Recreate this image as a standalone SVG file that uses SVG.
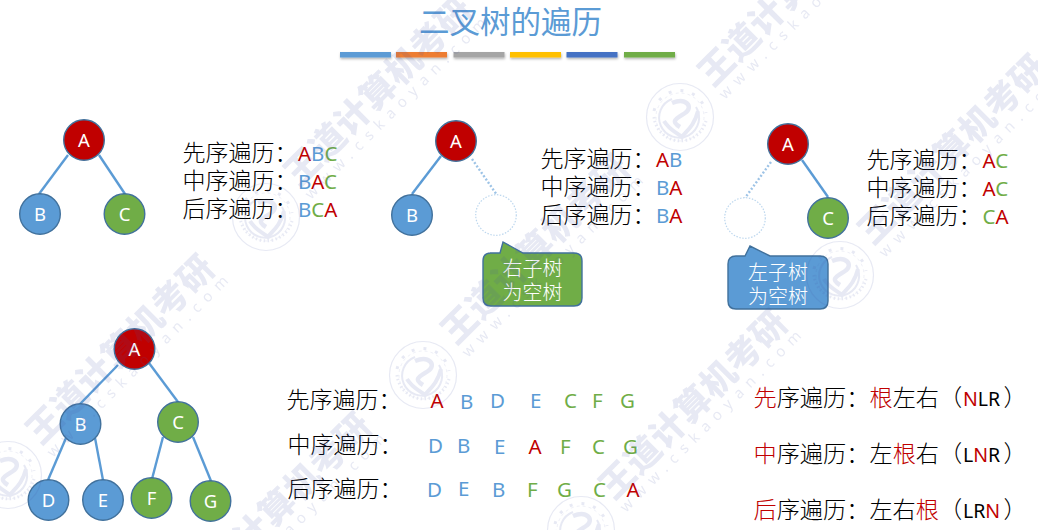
<svg xmlns="http://www.w3.org/2000/svg" xmlns:xlink="http://www.w3.org/1999/xlink" width="1038" height="530" viewBox="0 0 1038 530">
<style>
text{font-family:"Noto Sans CJK SC","Noto Sans",sans-serif}
.lat{font-family:"Noto Sans","Open Sans",sans-serif}
.cjk{font-size:23px;font-weight:300;fill:#000}
.cjk2{font-size:23.2px;font-weight:300;fill:#000}
.seq{font-family:"Noto Sans","Open Sans",sans-serif;font-size:20.5px}
.seq2{font-family:"Noto Sans","Open Sans",sans-serif;font-size:19.5px}
.r{fill:#c00000}.b{fill:#5b9bd5}.g{fill:#70ad47}.k{fill:#000}
.nr{fill:#c00000;stroke:#41719c;stroke-width:1.4}
.nb{fill:#5b9bd5;stroke:#41719c;stroke-width:1.4}
.ng{fill:#70ad47;stroke:#41719c;stroke-width:1.4}
.ne{fill:#fff;stroke:#bdd7ee;stroke-width:1.2;stroke-dasharray:1.5 1.5}
.nt{font-family:"Noto Sans","Open Sans",sans-serif;font-size:18.5px;fill:#fff;text-anchor:middle}
.e{stroke:#5b9bd5;stroke-width:2.4;fill:none}
.d{stroke:#9dc3e6;stroke-width:2.4;stroke-dasharray:2 2;fill:none}
.co{font-size:20px;font-weight:300;fill:#fff;text-anchor:middle}
.bar{filter:url(#sh)}
</style>
<defs>
<filter id="sh" x="-10%" y="-60%" width="120%" height="260%"><feDropShadow dx="0.5" dy="1.5" stdDeviation="1" flood-color="#000" flood-opacity=".3"/></filter>
<g id="wm" fill="#4a5aa8" opacity=".13">
<text transform="translate(33,-29) rotate(-45)" style="font-size:35px;font-weight:900;letter-spacing:.6px">王道计算机考研</text>
<text class="lat" transform="translate(45,-17) rotate(-45)" style="font-size:15px;letter-spacing:7.4px">www.cskaoyan.com</text>
<g fill="none" stroke="#4a5aa8">
<circle r="33.5" stroke-width="1.2"/>
<circle r="24" stroke-width=".7" stroke-dasharray="3 3"/>
<path d="M-8,-18A20,20 0 1 0 16,-10" stroke-width="2"/>
<path d="M-8,-14C6,-20 14,-10 5,-4S-10,4 0,10" stroke-width="4.5"/>
<path d="M-16,4C-10,14 -2,16 2,20C6,14 14,10 18,-6" stroke-width="4"/>
<path d="M-26,0A26.500,26.500 0 0 0 26,4" stroke-width="3" stroke-dasharray="1.500 2.500"/>
<path d="M-26,-6A26.500,26.500 0 0 1 26,-4" stroke-width="3" stroke-dasharray="3 9"/>
</g>
</g>
</defs>
<rect width="1038" height="530" fill="#fff"/>

<g id="title">
<text x="510.500" y="33" text-anchor="middle" style="font-size:30.500px;font-weight:400;fill:#5b9bd5">二叉树的遍历</text>
<rect class="bar" x="340" y="52" width="51" height="5.500" fill="#5b9bd5"/>
<rect class="bar" x="396" y="52" width="51" height="5.500" fill="#ed7d31"/>
<rect class="bar" x="453.500" y="52" width="51" height="5.500" fill="#a5a5a5"/>
<rect class="bar" x="510" y="52" width="51" height="5.500" fill="#ffc000"/>
<rect class="bar" x="566.500" y="52" width="51" height="5.500" fill="#4472c4"/>
<rect class="bar" x="624" y="52" width="51" height="5.500" fill="#70ad47"/>
</g>

<g id="connectors">
<line class="e" x1="68" y1="155" x2="39" y2="194"/>
<line class="e" x1="99" y1="155" x2="125" y2="194"/>
<line class="e" x1="441" y1="156" x2="412" y2="194"/>
<line class="d" x1="472" y1="159" x2="497" y2="195"/>
<line class="d" x1="771" y1="162" x2="745" y2="198"/>
<line class="e" x1="802" y1="160" x2="828" y2="197"/>
<line class="e" x1="118" y1="365" x2="80" y2="404"/>
<line class="e" x1="149" y1="363" x2="178" y2="402"/>
<line class="e" x1="66" y1="438" x2="48" y2="480"/>
<line class="e" x1="95" y1="438" x2="103" y2="480"/>
<line class="e" x1="163" y1="437" x2="152" y2="479"/>
<line class="e" x1="193" y1="437" x2="211" y2="481"/>
</g>

<g id="t1-a"><circle class="nr" cx="84" cy="140" r="20.300"/><text class="nt" x="84" y="146.500">A</text></g>
<g id="t1-b"><circle class="nb" cx="40" cy="214" r="20.300"/><text class="nt" x="40" y="220.500">B</text></g>
<g id="t1-c"><circle class="ng" cx="124.500" cy="214" r="20.300"/><text class="nt" x="124.500" y="220.500">C</text></g>

<g id="t2-a"><circle class="nr" cx="456" cy="141" r="20.300"/><text class="nt" x="456" y="147.500">A</text></g>
<g id="t2-b"><circle class="nb" cx="412" cy="215" r="20.300"/><text class="nt" x="412" y="221.500">B</text></g>
<g id="t2-empty"><circle class="ne" cx="496" cy="215" r="20.300"/></g>

<g id="t3-a"><circle class="nr" cx="788" cy="144" r="20.300"/><text class="nt" x="788" y="150.500">A</text></g>
<g id="t3-empty"><circle class="ne" cx="745" cy="218" r="20.300"/></g>
<g id="t3-c"><circle class="ng" cx="828" cy="218" r="20.300"/><text class="nt" x="828" y="224.500">C</text></g>

<g id="t4-a"><circle class="nr" cx="134.500" cy="349" r="20.300"/><text class="nt" x="134.500" y="355.500">A</text></g>
<g id="t4-b"><circle class="nb" cx="80.500" cy="424" r="20.300"/><text class="nt" x="80.500" y="430.500">B</text></g>
<g id="t4-c"><circle class="ng" cx="178" cy="422" r="20.300"/><text class="nt" x="178" y="428.500">C</text></g>
<g id="t4-d"><circle class="nb" cx="48.500" cy="500" r="20.300"/><text class="nt" x="48.500" y="506.500">D</text></g>
<g id="t4-e"><circle class="nb" cx="103" cy="500" r="20.300"/><text class="nt" x="103" y="506.500">E</text></g>
<g id="t4-f"><circle class="ng" cx="151.500" cy="498" r="20.300"/><text class="nt" x="151.500" y="504.500">F</text></g>
<g id="t4-g"><circle class="ng" cx="210.500" cy="501" r="20.300"/><text class="nt" x="210.500" y="507.500">G</text></g>

<g id="callout-right">
<path d="M490,253L500,253L503,242L523,253L574,253Q582,253 582,261L582,298Q582,306 574,306L491,306Q483,306 483,298L483,261Q483,253 491,253Z" fill="#70ad47" stroke="#41719c" stroke-width="1.400"/>
<text class="co" x="532.500" y="276">右子树</text><text class="co" x="532.500" y="300">为空树</text>
</g>
<g id="callout-left">
<path d="M736,256L745,256L750,246L770,256L820,256Q828,256 828,264L828,301Q828,309 820,309L736,309Q728,309 728,301L728,264Q728,256 736,256Z" fill="#5b9bd5" stroke="#41719c" stroke-width="1.400"/>
<text class="co" x="778" y="280">左子树</text><text class="co" x="778" y="303.500">为空树</text>
</g>

<g id="text-1">
<text class="cjk" x="182.500" y="161">先序遍历：</text><text class="seq" x="298" y="161"><tspan class="r">A</tspan><tspan class="b">B</tspan><tspan class="g">C</tspan></text>
<text class="cjk" x="182.500" y="189">中序遍历：</text><text class="seq" x="298" y="189"><tspan class="b">B</tspan><tspan class="r">A</tspan><tspan class="g">C</tspan></text>
<text class="cjk" x="182.500" y="217">后序遍历：</text><text class="seq" x="298" y="217"><tspan class="b">B</tspan><tspan class="g">C</tspan><tspan class="r">A</tspan></text>
</g>
<g id="text-2">
<text class="cjk" x="540.500" y="167">先序遍历：</text><text class="seq" x="656" y="167"><tspan class="r">A</tspan><tspan class="b">B</tspan></text>
<text class="cjk" x="540.500" y="195">中序遍历：</text><text class="seq" x="656" y="195"><tspan class="b">B</tspan><tspan class="r">A</tspan></text>
<text class="cjk" x="540.500" y="223">后序遍历：</text><text class="seq" x="656" y="223"><tspan class="b">B</tspan><tspan class="r">A</tspan></text>
</g>
<g id="text-3">
<text class="cjk" x="866.500" y="168">先序遍历：</text><text class="seq" x="982.500" y="168"><tspan class="r">A</tspan><tspan class="g">C</tspan></text>
<text class="cjk" x="866.500" y="196">中序遍历：</text><text class="seq" x="982.500" y="196"><tspan class="r">A</tspan><tspan class="g">C</tspan></text>
<text class="cjk" x="866.500" y="224">后序遍历：</text><text class="seq" x="982.500" y="224"><tspan class="g">C</tspan><tspan class="r">A</tspan></text>
</g>
<g id="text-4">
<text class="cjk" x="286.500" y="408">先序遍历：</text>
<text class="seq r" x="430.500" y="408">A</text><text class="seq b" x="460" y="409">B</text><text class="seq b" x="490" y="408">D</text><text class="seq b" x="530" y="408">E</text><text class="seq g" x="564" y="408">C</text><text class="seq g" x="592" y="408">F</text><text class="seq g" x="620" y="408">G</text>
<text class="cjk" x="287.500" y="453">中序遍历：</text>
<text class="seq b" x="428" y="453">D</text><text class="seq b" x="457" y="453">B</text><text class="seq b" x="494" y="454">E</text><text class="seq r" x="528.500" y="454">A</text><text class="seq g" x="560" y="454">F</text><text class="seq g" x="592" y="454">C</text><text class="seq g" x="623" y="454">G</text>
<text class="cjk" x="287.500" y="497">后序遍历：</text>
<text class="seq b" x="427" y="497">D</text><text class="seq b" x="458" y="496">E</text><text class="seq b" x="492" y="497">B</text><text class="seq g" x="527" y="497">F</text><text class="seq g" x="557" y="497">G</text><text class="seq g" x="593" y="497">C</text><text class="seq r" x="626.500" y="497">A</text>
</g>
<g id="text-5">
<text class="cjk2" x="753.500" y="406"><tspan class="r">先</tspan>序遍历：<tspan class="r">根</tspan>左右（</text><text class="seq2" x="963" y="406"><tspan class="r">N</tspan><tspan class="k">LR</tspan></text><text class="cjk2" x="1003.500" y="406">）</text>
<text class="cjk2" x="753.500" y="462"><tspan class="r">中</tspan>序遍历：左<tspan class="r">根</tspan>右（</text><text class="seq2" x="963" y="462"><tspan class="k">L</tspan><tspan class="r">N</tspan><tspan class="k">R</tspan></text><text class="cjk2" x="1003.500" y="462">）</text>
<text class="cjk2" x="753.500" y="518"><tspan class="r">后</tspan>序遍历：左右<tspan class="r">根</tspan>（</text><text class="seq2" x="963" y="518"><tspan class="k">LR</tspan><tspan class="r">N</tspan></text><text class="cjk2" x="1003.500" y="518">）</text>
</g>

<g id="watermarks">
<use xlink:href="#wm" href="#wm" x="266" y="217"/>
<use xlink:href="#wm" href="#wm" x="680" y="117"/>
<use xlink:href="#wm" href="#wm" x="840" y="275"/>
<use xlink:href="#wm" href="#wm" x="423" y="375"/>
<use xlink:href="#wm" href="#wm" x="8" y="475"/>
<use xlink:href="#wm" href="#wm" x="581" y="530"/>
<use xlink:href="#wm" href="#wm" x="165" y="633"/>
</g>
</svg>
